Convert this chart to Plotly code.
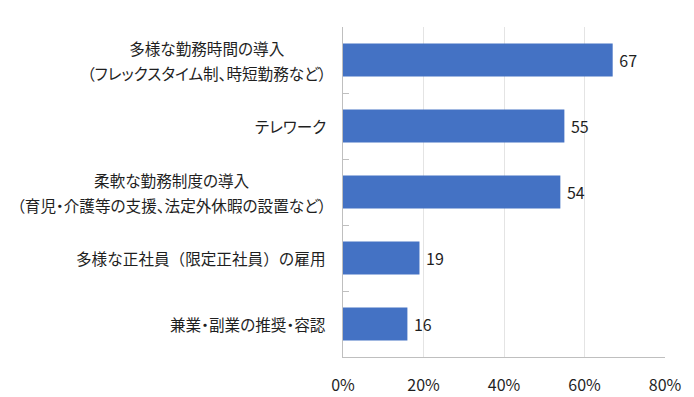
import plotly.graph_objects as go

categories = [
    "多様な勤務時間の導入<br>（フレックスタイム制、時短勤務など）",
    "テレワーク",
    "柔軟な勤務制度の導入<br>（育児・介護等の支援、法定外休暇の設置など）",
    "多様な正社員（限定正社員）の雇用",
    "兼業・副業の推奨・容認",
]
values = [67, 55, 54, 19, 16]
x_ticks = [0, 20, 40, 60, 80]
x_tick_labels = ["0%", "20%", "40%", "60%", "80%"]

FONT = "Noto Sans CJK JP, Meiryo, sans-serif"
TXT = "#1f1f1f"

fig = go.Figure()
fig.add_trace(go.Bar(
    y=categories,
    x=values,
    orientation="h",
    marker=dict(color="#4472C4", line=dict(width=0)),
    text=[str(v) for v in values],
    texttemplate="\u00a0%{text}",
    textposition="outside",
    textfont=dict(size=16, color=TXT, family=FONT),
    cliponaxis=False,
    hoverinfo="skip",
))

for cat in categories:
    lines = cat.split("<br>")
    # proportional punctuation except for the single line with full-width parentheses
    feat = "font-feature-settings:'palt';" if ("<br>" in cat or "（" not in cat) else ""
    txt = "<br>".join(
        f"<span style=\"font-size:15.6px;{feat}\">{ln}</span>"
        for ln in lines
    )
    fig.add_annotation(
        x=0, xref="paper", y=cat, yref="y",
        xanchor="right", yanchor="middle", xshift=-15,
        align="center", showarrow=False,
        text=txt,
        font=dict(size=19.6, color=TXT, family=FONT),
    )

# page body has an 8px default margin, so the figure is sized to fit the window
fig.update_layout(
    width=686, height=389,
    margin=dict(l=335, r=29, t=19, b=40, autoexpand=False),
    paper_bgcolor="white", plot_bgcolor="white",
    bargap=0.5,
    showlegend=False,
    font=dict(family=FONT, color=TXT),
)
fig.update_xaxes(
    range=[0, 80],
    tickvals=x_ticks,
    ticktext=x_tick_labels,
    showgrid=True, gridcolor="#e4e4e4", gridwidth=1,
    zeroline=False,
    showline=True, linecolor="#bfbfbf", linewidth=1,
    ticks="",
    tickfont=dict(size=16, color=TXT, family=FONT),
    ticklabelstandoff=14,
    fixedrange=True,
)
fig.update_yaxes(
    categoryorder="array", categoryarray=categories,
    autorange="reversed",
    showticklabels=False,
    showline=True, linecolor="#bfbfbf", linewidth=1,
    ticks="inside", tickson="boundaries", ticklen=6, tickcolor="#bfbfbf",
    showgrid=False,
    fixedrange=True,
)

fig.write_html("out.html")
